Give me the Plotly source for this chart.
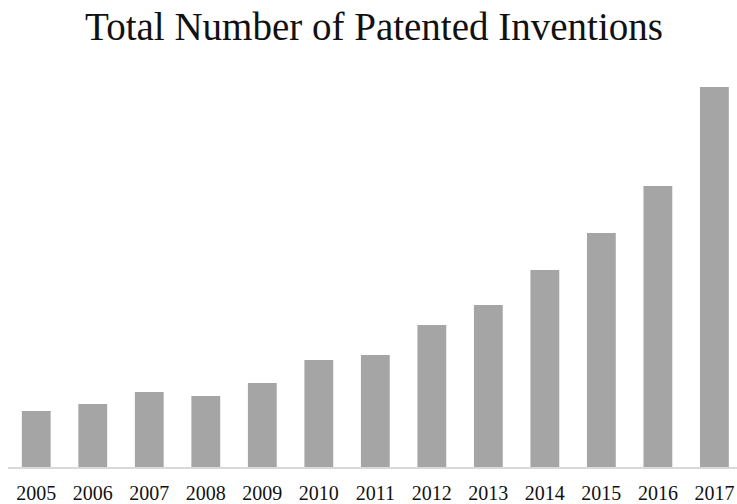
import plotly.graph_objects as go

years = ["2005", "2006", "2007", "2008", "2009", "2010", "2011",
         "2012", "2013", "2014", "2015", "2016", "2017"]
values = [56, 63, 75, 71, 84, 107, 112, 142, 162, 197, 234, 281, 380]

fig = go.Figure(go.Bar(
    x=years, y=values,
    marker=dict(color="#a5a5a5", line=dict(width=0)),
))

fig.update_layout(
    width=737, height=504,
    margin=dict(l=8, r=0, t=70, b=37, autoexpand=False),
    paper_bgcolor="white", plot_bgcolor="white",
    bargap=0.49,
    showlegend=False,
    title=dict(text="Total Number of Patented Inventions",
               x=0.5075, xanchor="center", y=0.948, yanchor="middle",
               font=dict(family="Liberation Serif", size=39, color="#111111")),
    font=dict(family="Liberation Serif", color="#111111"),
)
fig.update_xaxes(
    type="category", range=[-0.5, 12.4], automargin=False,
    showline=True, linecolor="#d9d9d9", linewidth=2,
    showgrid=False, ticks="", tickfont=dict(size=20, family="Liberation Serif"),
    ticklabelstandoff=7,
)
fig.update_yaxes(range=[0, 397], visible=False, showgrid=False, zeroline=False,
                 automargin=False)

fig.write_html("out.html")
